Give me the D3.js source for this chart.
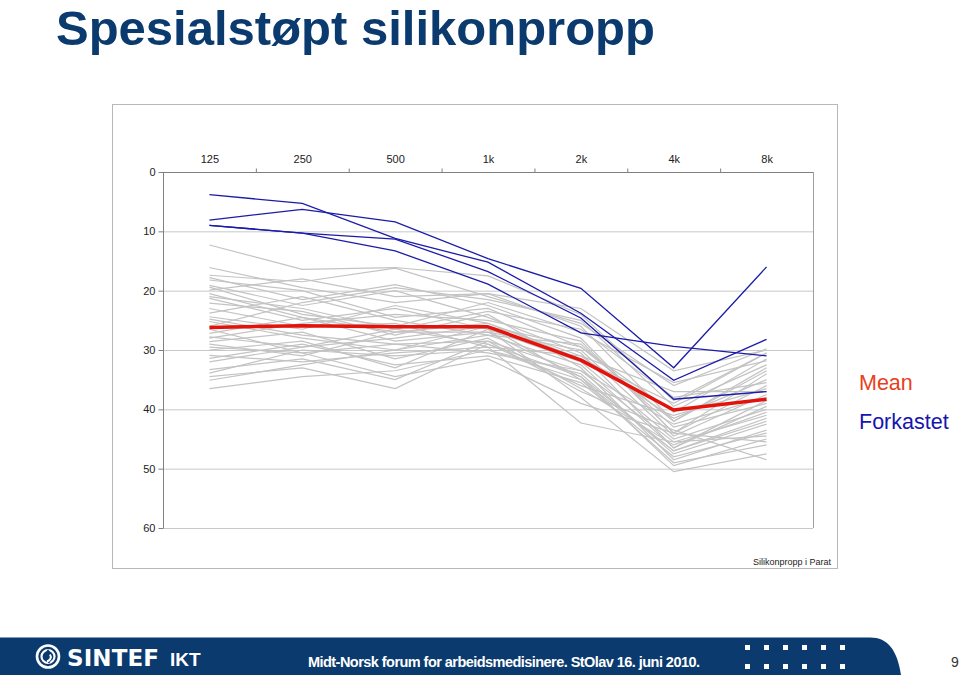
<!DOCTYPE html>
<html><head><meta charset="utf-8">
<script src="https://cdn.jsdelivr.net/npm/d3@7"></script>
<style>body{margin:0;background:#fff;}svg{display:block;font-family:Arial,"Liberation Sans",sans-serif;}</style>
</head><body>
<svg id="c" width="960" height="675"></svg>
<script>
const categories = ["125","250","500","1k","2k","4k","8k"];
const yTicks = [0,10,20,30,40,50,60];
const meanValues = [26.2, 25.9, 26.1, 26.1, 31.7, 40.1, 38.3];
const rejectedSeries = [
  [3.8, 5.3, 11.2, 15.2, 23.8, 35.1, 28.2],
  [8.1, 6.3, 8.4, 14.6, 19.6, 33.0, 16.0],
  [9.0, 10.3, 11.3, 16.8, 24.6, 38.3, 37.0],
  [9.0, 10.3, 13.3, 18.9, 27.1, 29.4, 31.0]
];
const acceptedSeries = [
  [12.3, 16.4, 16.1, 17.5, 24.0, 38.5, 30.5],
  [16.1, 19.5, 22.0, 20.5, 26.0, 42.0, 33.0],
  [17.4, 18.5, 16.2, 21.0, 25.5, 36.0, 29.8],
  [17.8, 21.5, 19.0, 22.5, 28.0, 44.0, 36.0],
  [18.2, 20.0, 24.5, 23.0, 29.5, 40.5, 31.5],
  [19.1, 22.5, 20.0, 24.5, 30.5, 46.5, 38.5],
  [19.4, 24.0, 26.0, 22.0, 27.0, 35.5, 31.8],
  [19.9, 18.0, 21.0, 20.5, 23.0, 33.5, 30.0],
  [21.3, 25.0, 23.0, 26.5, 32.0, 45.0, 40.0],
  [22.1, 23.5, 27.5, 24.0, 33.0, 48.5, 43.5],
  [23.8, 21.0, 25.0, 27.5, 29.0, 43.0, 39.0],
  [24.4, 26.5, 22.5, 25.5, 31.0, 41.5, 35.0],
  [25.2, 28.0, 30.0, 26.0, 35.0, 47.0, 42.0],
  [27.2, 24.5, 28.5, 27.0, 30.0, 44.5, 37.5],
  [27.8, 29.5, 26.5, 29.0, 34.5, 49.5, 45.0],
  [28.6, 27.0, 31.5, 28.0, 36.5, 46.0, 40.5],
  [29.5, 30.5, 29.0, 30.5, 33.5, 42.5, 38.0],
  [30.0, 28.5, 33.0, 26.5, 38.0, 50.5, 47.5],
  [30.9, 32.0, 30.5, 29.5, 42.3, 45.5, 41.0],
  [31.4, 29.0, 32.5, 31.0, 35.5, 48.0, 44.0],
  [33.3, 31.5, 35.0, 28.5, 37.0, 43.5, 48.5],
  [33.9, 30.0, 31.0, 30.0, 34.0, 47.5, 42.5],
  [34.5, 33.0, 36.5, 29.0, 36.0, 41.0, 36.5],
  [35.1, 32.5, 30.0, 27.5, 32.5, 46.5, 39.5],
  [36.5, 34.5, 33.5, 30.0, 35.0, 49.0, 46.0],
  [26.0, 22.0, 19.5, 21.5, 25.0, 39.5, 32.5],
  [28.0, 25.5, 24.0, 25.0, 28.5, 44.0, 34.0],
  [29.0, 31.0, 27.0, 25.5, 31.5, 39.0, 30.5],
  [24.8, 27.5, 29.0, 28.5, 33.5, 45.5, 44.5],
  [21.0, 23.0, 26.5, 23.5, 26.5, 38.0, 35.5],
  [32.0, 29.5, 28.0, 26.0, 29.5, 42.0, 33.5],
  [20.5, 24.5, 27.0, 27.0, 34.5, 47.0, 41.5],
  [26.5, 30.5, 34.5, 31.5, 39.0, 44.0, 45.5],
  [23.0, 26.0, 25.5, 29.5, 31.0, 37.0, 37.0]
];
const titleText = "Spesialstøpt silikonpropp";
const legendLabels = ["Mean", "Forkastet"];
const chartNote = "Silikonpropp i Parat";
const footerText = "Midt-Norsk forum for arbeidsmedisinere. StOlav 16. juni 2010.";
const pageNumber = "9";

const svg = d3.select("#c");
const navy = "#0b3a6e";

// title
svg.append("text").attr("x", 56).attr("y", 45).attr("fill", navy)
  .attr("font-size", 49).attr("font-weight", "bold").text(titleText);

// chart box
svg.append("rect").attr("x", 112.5).attr("y", 104.5).attr("width", 725).attr("height", 464)
  .attr("fill", "#fff").attr("stroke", "#b8b8b8").attr("stroke-width", 1);

const L = 163, R = 813, T = 172, B = 528;
const x = d3.scalePoint().domain(categories).range([L, R]).padding(0.5);
const xb = d3.scaleBand().domain(categories).range([L, R]);
const y = d3.scaleLinear().domain([0, 60]).range([T, B]);

// gridlines
svg.append("g").selectAll("line").data(yTicks.filter(d => d > 0)).join("line")
  .attr("x1", L).attr("x2", R).attr("y1", d => y(d) + 0.5).attr("y2", d => y(d) + 0.5)
  .attr("stroke", "#c8c8c8").attr("stroke-width", 1);
// right border
svg.append("line").attr("x1", R + 0.5).attr("x2", R + 0.5).attr("y1", T).attr("y2", B)
  .attr("stroke", "#a0a0a0");

// top axis
const xAxis = d3.axisTop(x).tickSize(0).tickPadding(10);
const gx = svg.append("g").attr("transform", `translate(0,${T + 0.5})`).call(xAxis);
gx.select(".domain").attr("stroke", "#808080").attr("d", `M${L},0H${R}`);
gx.selectAll("text").attr("font-size", 11).attr("fill", "#222").attr("font-family", "Arial, Liberation Sans, sans-serif");
gx.selectAll(".tickmark").data(categories.slice(1)).join("line").attr("class", "tickmark")
  .attr("x1", d => xb(d) + 0.5).attr("x2", d => xb(d) + 0.5).attr("y1", -4).attr("y2", 0).attr("stroke", "#808080");

// left axis
const yAxis = d3.axisLeft(y).tickValues(yTicks).tickSize(5).tickPadding(3);
const gy = svg.append("g").attr("transform", `translate(${L + 0.5},0)`).call(yAxis);
gy.select(".domain").attr("stroke", "#808080").attr("d", `M0,${T}V${B}`);
gy.selectAll(".tick line").attr("stroke", "#808080");
gy.selectAll("text").attr("font-size", 11).attr("fill", "#222").attr("font-family", "Arial, Liberation Sans, sans-serif");

const line = d3.line().x((d, i) => x(categories[i])).y(d => y(d));

svg.append("g").selectAll("path").data(acceptedSeries).join("path")
  .attr("d", line).attr("fill", "none").attr("stroke", "#c3c3c3").attr("stroke-width", 1.2);
svg.append("g").selectAll("path").data(rejectedSeries).join("path")
  .attr("d", line).attr("fill", "none").attr("stroke", "#1c1ca8").attr("stroke-width", 1.3);
svg.append("path").datum(meanValues).attr("d", line).attr("fill", "none")
  .attr("stroke", "#e3120b").attr("stroke-width", 3.5).attr("stroke-linejoin", "round");

// legend
const legendColors = ["#e8401c", "#1515b0"];
svg.append("g").selectAll("text").data(legendLabels).join("text")
  .attr("x", 859).attr("y", (d, i) => 390 + i * 39).attr("font-size", 21.5)
  .attr("fill", (d, i) => legendColors[i]).text(d => d);

svg.append("text").attr("x", 831).attr("y", 565).attr("text-anchor", "end")
  .attr("font-size", 9).attr("fill", "#222").text(chartNote);

// footer
svg.append("path").attr("d", "M0,637.5 H870 C888,637.5 897,650 901,675 H0 Z").attr("fill", navy);
const logo = svg.append("g").attr("transform", "translate(48,656.5)");
logo.append("circle").attr("r", 11).attr("fill", "none").attr("stroke", "#fff").attr("stroke-width", 2.6);
logo.append("circle").attr("r", 6.5).attr("fill", "none").attr("stroke", "#fff").attr("stroke-width", 2.2);
logo.append("path").attr("d", "M1,-6 C-3,-3 4,1 0,6").attr("fill", "none").attr("stroke", navy).attr("stroke-width", 3);
logo.append("path").attr("d", "M2,-2 C4,1 2,4 -1,5").attr("fill", "none").attr("stroke", "#fff").attr("stroke-width", 2);
svg.append("text").attr("x", 67).attr("y", 666).attr("fill", "#fff").attr("font-size", 23)
  .attr("font-weight", "900").attr("font-family", "Arial Black, DejaVu Sans, sans-serif").attr("textLength", 92).text("SINTEF");
svg.append("text").attr("x", 170).attr("y", 666).attr("fill", "#fff").attr("font-size", 19)
  .attr("font-weight", "bold").text("IKT");
svg.append("text").attr("x", 308).attr("y", 667).attr("fill", "#fff").attr("font-size", 14.5)
  .attr("font-weight", "bold").attr("textLength", 392).text(footerText);
const dotsX = d3.range(6), dotsY = [0, 1];
svg.append("g").selectAll("rect").data(d3.cross(dotsX, dotsY)).join("rect")
  .attr("x", d => 745 + d[0] * 19).attr("y", d => 645 + d[1] * 19).attr("width", 5).attr("height", 5).attr("fill", "#fff");
svg.append("text").attr("x", 955).attr("y", 667).attr("text-anchor", "middle").attr("font-size", 14)
  .attr("fill", "#333").text(pageNumber);
</script>
</body></html>
